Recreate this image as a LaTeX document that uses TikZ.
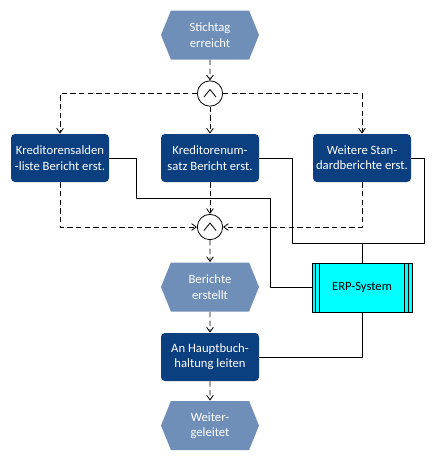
\documentclass[tikz,border=0pt]{standalone}
\usepackage{fontspec}
\setmainfont{Carlito}
\usetikzlibrary{shapes.symbols,arrows.meta}
\definecolor{evtblue}{HTML}{6F8FB9}
\definecolor{fnblue}{HTML}{0B3F80}
\definecolor{sysaqua}{HTML}{00FFFF}
\tikzset{
	event/.style={signal, signal to=west and east, signal pointer angle=136, fill=evtblue, text=white, minimum width=73.5pt, minimum height=36.75pt, inner sep=0pt, align=center},
	func/.style={rectangle, rounded corners=3pt, fill=fnblue, text=white, minimum width=73.5pt, minimum height=36pt, inner sep=0pt, align=center},
	andconn/.style={circle, draw, fill=white, minimum size=19pt, inner sep=0pt},
	system/.style={rectangle, draw, fill=sysaqua, minimum width=75pt, minimum height=36.75pt, inner sep=0pt},
	flow/.style={->, dashed, dash pattern=on 4pt off 2.5pt}
}
\begin{document}
\begin{tikzpicture}[x=0.75pt, y=-0.75pt, font=\fontsize{9.5}{11.5}\selectfont, line join=round, line width=0.6pt, >={Straight Barb[length=3.5pt,width=5pt]}]
	\useasboundingbox (0,0) rectangle (448,461);
	% events and functions
	\node[event] (stichtag) at (210,35) {Stichtag\\erreicht};
	\node[andconn] (and1) at (210,93.5) {};
	\node[func] (salden) at (60,158) {Kreditorensalden\\-liste Bericht erst.};
	\node[func] (umsatz) at (210,158) {Kreditorenum-\\satz Bericht erst.};
	\node[func] (weitere) at (362,158) {Weitere Stan-\\dardberichte erst.};
	\node[andconn] (and2) at (210,227) {};
	\node[event] (erstellt) at (210,287) {Berichte\\erstellt};
	\node[system] (erp) at (362,287.5) {ERP-System};
	\node[func] (leiten) at (210,357) {An Hauptbuch-\\haltung leiten};
	\node[event] (geleitet) at (210,425.5) {Weiter-\\geleitet};
	% and symbols
	\foreach \c in {and1,and2}
		\draw[shift={(\c.center)}] (-6,3.5) -- (0,-4) -- (6,3.5);
	% system lines
	\foreach \d in {4,8} {
		\draw ([xshift=\d*0.75pt]erp.north west) -- ([xshift=\d*0.75pt]erp.south west);
		\draw ([xshift=-\d*0.75pt]erp.north east) -- ([xshift=-\d*0.75pt]erp.south east);
	}
	% control flow
	\draw[flow] (stichtag) -- (and1);
	\draw[flow] (and1) -| (salden);
	\draw[flow] (and1) -- (umsatz);
	\draw[flow] (and1) -| (weitere);
	\draw[flow] (salden) |- (and2);
	\draw[flow] (umsatz) -- (and2);
	\draw[flow] (weitere) |- (and2);
	\draw[flow] (and2) -- (erstellt);
	\draw[flow] (erstellt) -- (leiten);
	\draw[flow] (leiten) -- (geleitet);
	% system connections
	\draw (salden.east) -- ++(27,0) |- (270,198) |- (erp.west);
	\draw (umsatz.east) -- ++(33,0) |- (424,243) |- (weitere.east);
	\draw (erp.north) -- ++(0,-20);
	\draw (erp.south) |- (leiten.east);
\end{tikzpicture}
\end{document}
